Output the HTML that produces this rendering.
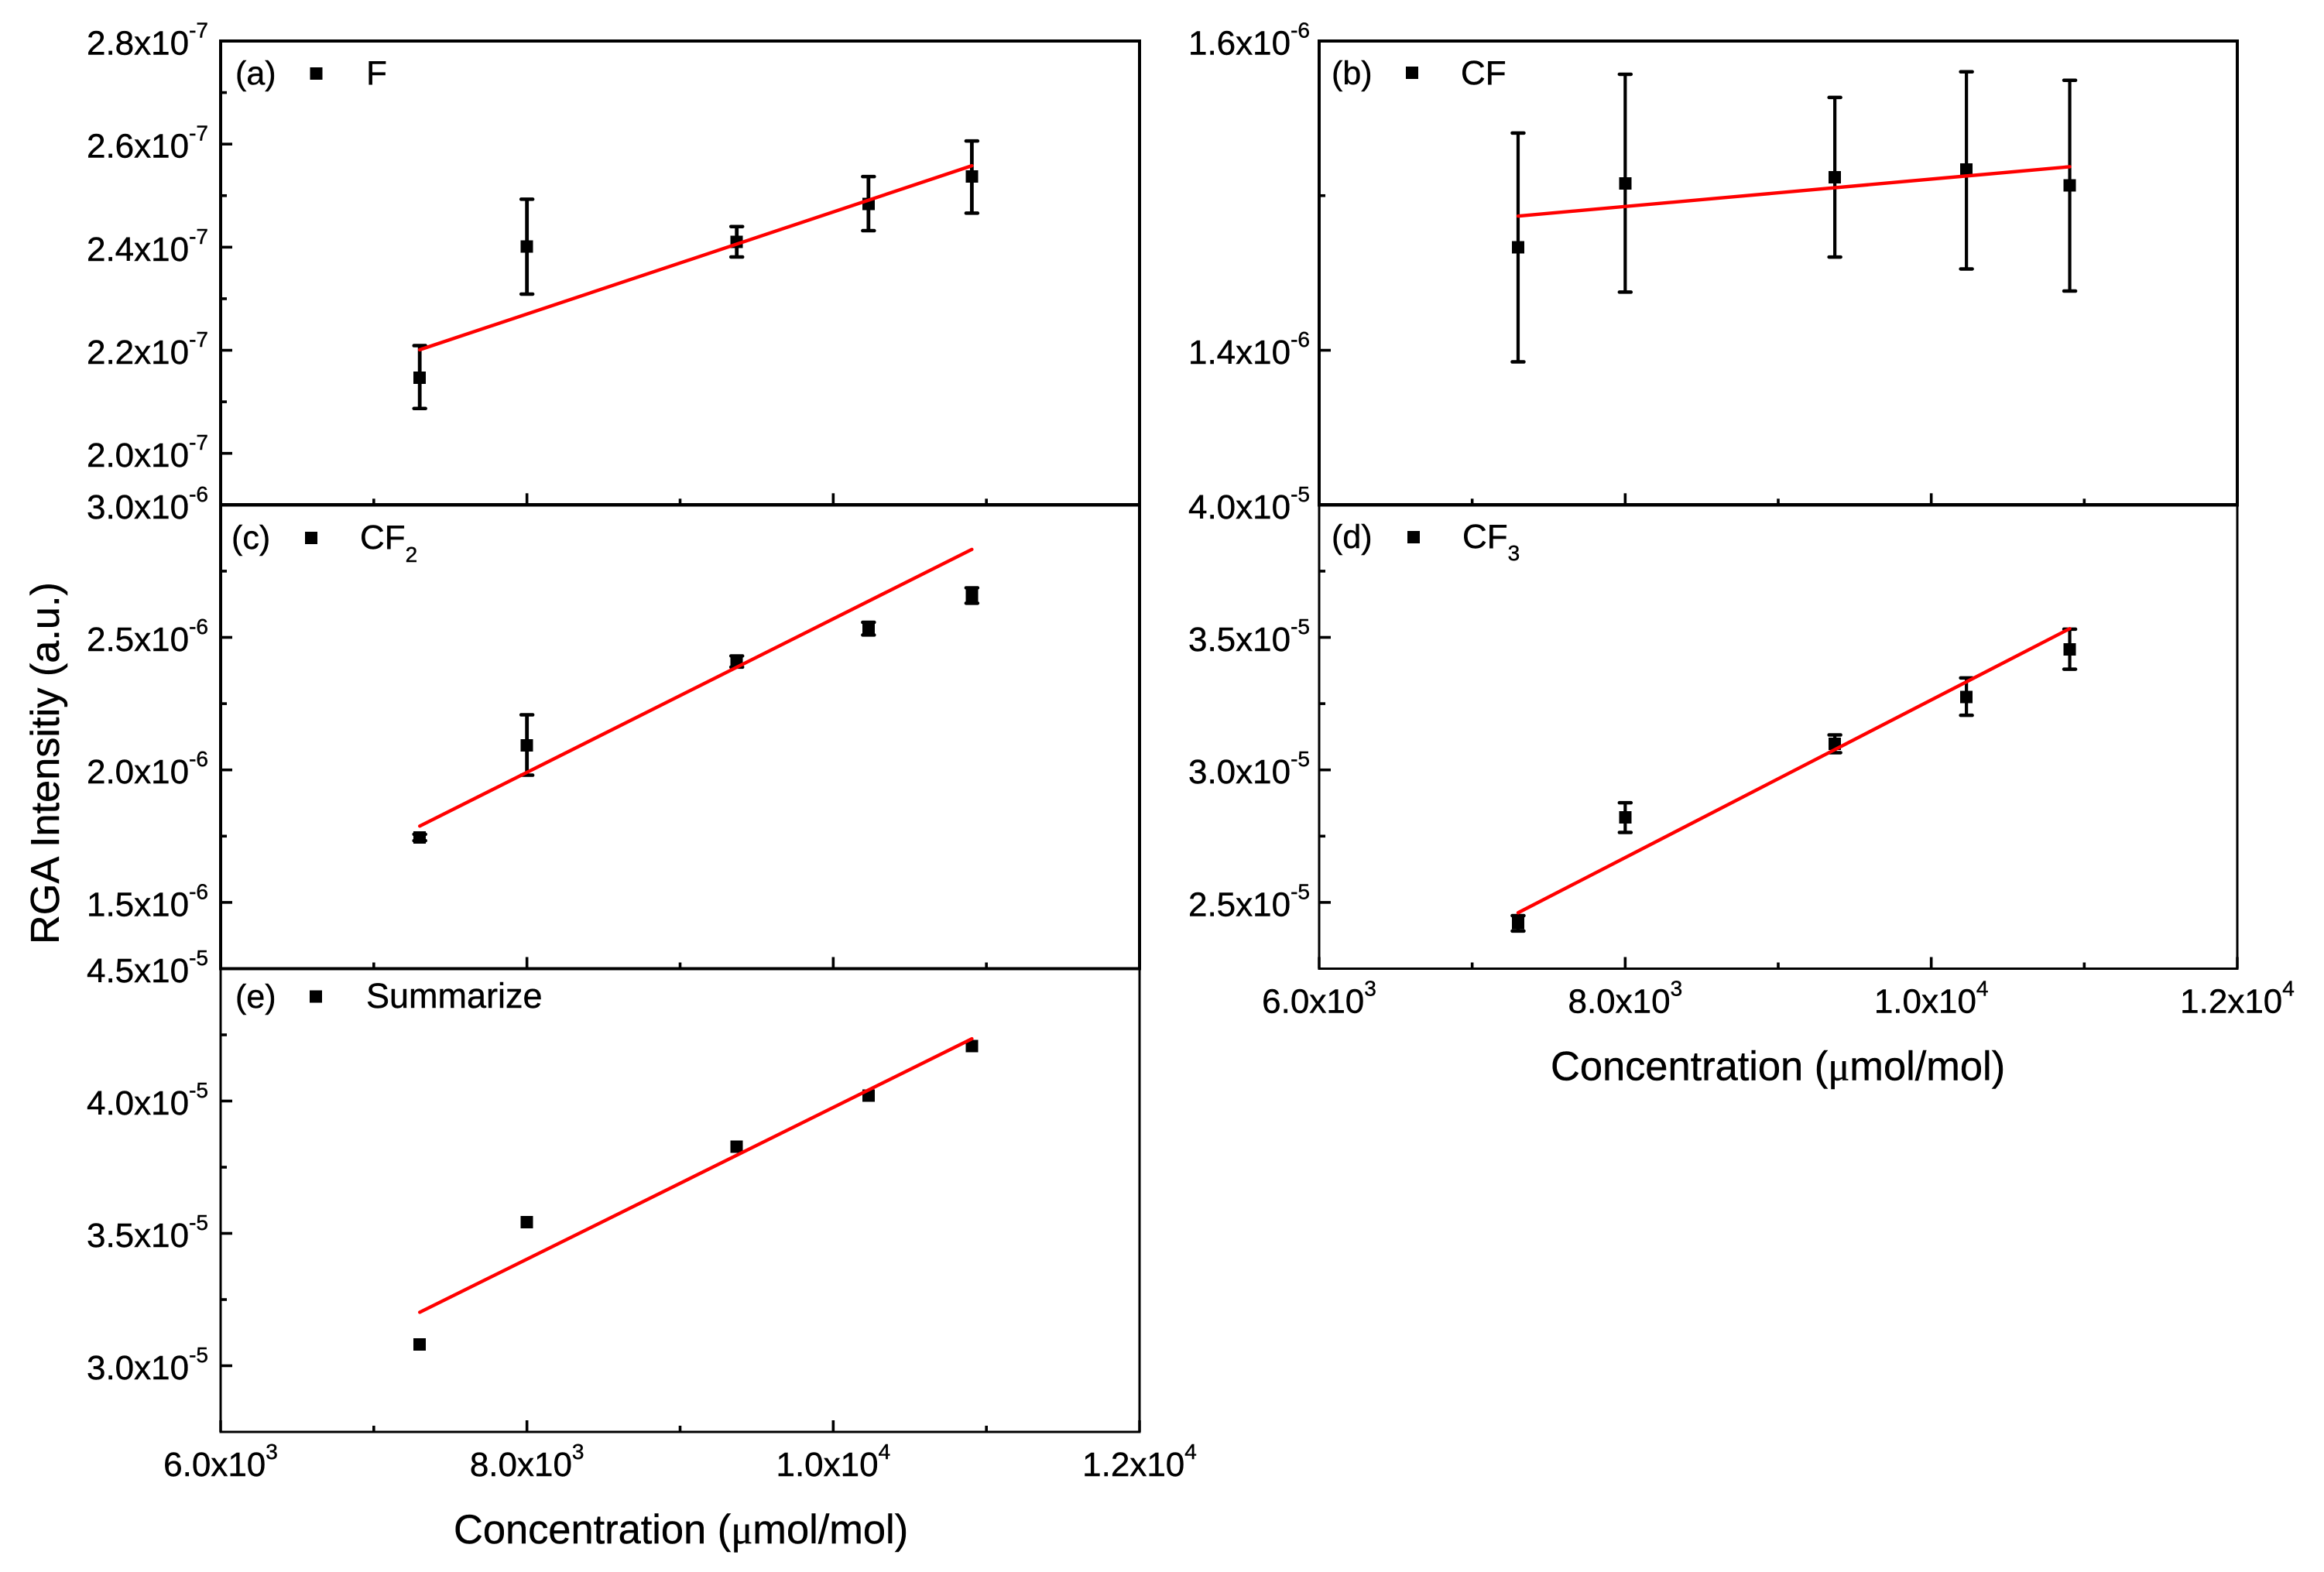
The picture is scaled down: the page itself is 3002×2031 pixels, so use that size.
<!DOCTYPE html>
<html lang="en">
<head>
<meta charset="utf-8">
<title>RGA Intensity vs Concentration</title>
<style>
html,body{margin:0;padding:0;background:#fff;width:3002px;height:2031px;overflow:hidden}
svg{display:block;font-family:"Liberation Sans",Arial,sans-serif;fill:#000}
svg text{stroke:#000;stroke-width:0.45px}
svg rect{shape-rendering:crispEdges}
</style>
</head>
<body>
<svg id="chart" xmlns="http://www.w3.org/2000/svg" width="3002" height="2031" viewBox="0 0 3002 2031">
  <rect x="0" y="0" width="3002" height="2031" fill="#fff"/>
  <g id="panels"></g>

  <text transform="translate(76,1220) rotate(-90)" font-size="52.3">RGA Intensitiy (a.u.)</text>
  <text x="586" y="1994" font-size="52.4">Concentration (<tspan font-family="'Liberation Serif',serif">μ</tspan>mol/mol)</text>
  <text x="2003" y="1395.5" font-size="52.4">Concentration (<tspan font-family="'Liberation Serif',serif">μ</tspan>mol/mol)</text>

  <g>
    <text x="304" y="109" font-size="43">(a)</text>
    <rect x="400.5" y="87" width="16" height="16"/>
    <text x="473" y="109" font-size="44">F</text>
  </g>
  <g>
    <text x="1720" y="109" font-size="43">(b)</text>
    <rect x="1816" y="86" width="16" height="16"/>
    <text x="1887" y="109" font-size="44">CF</text>
  </g>
  <g>
    <text x="299" y="709" font-size="43">(c)</text>
    <rect x="394" y="687" width="16" height="16"/>
    <text x="465" y="709" font-size="44">CF<tspan font-size="28" dy="17">2</tspan></text>
  </g>
  <g>
    <text x="1720" y="708" font-size="43">(d)</text>
    <rect x="1818" y="686" width="16" height="16"/>
    <text x="1889" y="708" font-size="44">CF<tspan font-size="28" dy="16">3</tspan></text>
  </g>
  <g>
    <text x="304" y="1302" font-size="43">(e)</text>
    <rect x="400" y="1279.5" width="16" height="16"/>
    <text x="473" y="1302" font-size="45">Summarize</text>
  </g>
</svg>

<script>
// Shared x data (umol/mol)
const concentrations = [7300, 8000, 9370, 10230, 10905];
const xFitRange = [7300, 10905];
const xMajorTicks = [6000, 8000, 10000, 12000];
const xMinorTicks = [7000, 9000, 11000];
const xTickMantissas = ['6.0', '8.0', '1.0', '1.2'];
const xTickExponents = ['3', '3', '4', '4'];

// Panel (a) F, values in 1e-7
const fValues = [2.147, 2.401, 2.410, 2.484, 2.537];
const fUpper = [2.209, 2.493, 2.440, 2.537, 2.606];
const fLower = [2.087, 2.309, 2.381, 2.432, 2.466];
const fFit = [2.201, 2.558];
const fDomain = [1.9, 2.8];
const fMajor = [2.0, 2.2, 2.4, 2.6, 2.8];
const fMinor = [2.1, 2.3, 2.5, 2.7];

// Panel (b) CF, values in 1e-6
const cfValues = [1.4667, 1.508, 1.5118, 1.5168, 1.5066];
const cfUpper = [1.5405, 1.5785, 1.5635, 1.5801, 1.5746];
const cfLower = [1.3925, 1.4376, 1.4603, 1.4526, 1.4383];
const cfFit = [1.4868, 1.5187];
const cfDomain = [1.3, 1.6];
const cfMajor = [1.4, 1.6];
const cfMinor = [1.5];

// Panel (c) CF2, values in 1e-6
const cf2Values = [1.745, 2.093, 2.409, 2.533, 2.658];
const cf2Upper = [1.757, 2.208, 2.430, 2.557, 2.687];
const cf2Lower = [1.733, 1.980, 2.388, 2.509, 2.629];
const cf2Fit = [1.788, 2.832];
const cf2Domain = [1.25, 3.0];
const cf2Major = [1.5, 2.0, 2.5, 3.0];
const cf2Minor = [1.75, 2.25, 2.75];

// Panel (d) CF3, values in 1e-5
const cf3Values = [2.422, 2.821, 3.099, 3.275, 3.455];
const cf3Upper = [2.450, 2.876, 3.132, 3.347, 3.531];
const cf3Lower = [2.392, 2.764, 3.065, 3.206, 3.380];
const cf3Fit = [2.461, 3.533];
const cf3Domain = [2.25, 4.0];
const cf3Major = [2.5, 3.0, 3.5, 4.0];
const cf3Minor = [2.75, 3.25, 3.75];

// Panel (e) Summarize, values in 1e-5
const sumValues = [3.081, 3.543, 3.828, 4.021, 4.208];
const sumFit = [3.202, 4.235];
const sumDomain = [2.75, 4.5];
const sumMajor = [3.0, 3.5, 4.0, 4.5];
const sumMinor = [3.25, 3.75, 4.25];

const SVGNS = 'http://www.w3.org/2000/svg';
const root = document.getElementById('panels');

function make(tag, parent, props) {
  const el = document.createElementNS(SVGNS, tag);
  for (const k in props) el.setAttribute(k, props[k]);
  parent.appendChild(el);
  return el;
}

function drawPanel(p) {
  const x = v => p.left + (v - 6000) / 6000 * (p.right - p.left);
  const y = v => p.bottom - (v - p.domain[0]) / (p.domain[1] - p.domain[0]) * (p.bottom - p.top);

  const g = make('g', root, {});
  
  

  const frame = make('rect', g, {x: p.left, y: p.top, width: p.right - p.left, height: p.bottom - p.top, fill: 'none', stroke: '#000', 'stroke-width': p.frameWidth});
  
  

  xMajorTicks.forEach((v, i) => {
    const t = make('line', g, {x1: x(v), x2: x(v), y1: p.bottom, y2: p.bottom - 15, stroke: '#000', 'stroke-width': 3.6});
    
    
    if (p.xLabels) {
      const lab = make('text', g, {x: x(v), y: p.bottom + 57, 'font-size': 44, 'text-anchor': 'middle'});
      
      
      lab.appendChild(document.createTextNode(xTickMantissas[i] + 'x10'));
      const sup = make('tspan', lab, {'font-size': 28, dy: -22});
      sup.textContent = xTickExponents[i];
    }
  });
  xMinorTicks.forEach(v => {
    const t = make('line', g, {x1: x(v), x2: x(v), y1: p.bottom, y2: p.bottom - 8, stroke: '#000', 'stroke-width': 3.6});
    
    
  });

  p.major.forEach(v => {
    const t = make('line', g, {x1: p.left, x2: p.left + 15, y1: y(v), y2: y(v), stroke: '#000', 'stroke-width': 3.6});
    
    
    const lab = make('text', g, {x: p.left - p.labelGap, y: y(v) + 17.5, 'font-size': 44, 'text-anchor': 'end'});
    
    
    lab.appendChild(document.createTextNode(v.toFixed(1) + 'x10'));
    const sup = make('tspan', lab, {'font-size': 28, dy: -22});
    sup.textContent = p.exponent;
  });
  p.minor.forEach(v => {
    const t = make('line', g, {x1: p.left, x2: p.left + 8, y1: y(v), y2: y(v), stroke: '#000', 'stroke-width': 3.6});
    
    
  });

  if (p.upper) {
    concentrations.forEach((c, i) => {
      const stem = make('line', g, {x1: x(c), x2: x(c), y1: y(p.upper[i]), y2: y(p.lower[i]), stroke: '#000', 'stroke-width': p.stemWidth});
      
      
      [p.upper[i], p.lower[i]].forEach(e => {
        const cap = make('line', g, {x1: x(c) - 7.5, x2: x(c) + 7.5, y1: y(e), y2: y(e), stroke: '#000', 'stroke-width': 4.5, 'stroke-linecap': 'round'});
        
        
      });
    });
  }

  concentrations.forEach((c, i) => {
    const m = make('rect', g, {x: x(c) - 8, y: y(p.values[i]) - 8, width: 16, height: 16, fill: '#000'});
    
    
  });

  const fit = make('line', g, {x1: x(xFitRange[0]), y1: y(p.fit[0]), x2: x(xFitRange[1]), y2: y(p.fit[1]), stroke: '#ff0000', 'stroke-width': 4.4, 'stroke-linecap': 'round'});
  
  
}

drawPanel({key: 'a', left: 285, right: 1472, top: 53, bottom: 652.3, frameWidth: 4.2, labelGap: 16, stemWidth: 4.8, exponent: '-7', domain: fDomain, major: fMajor, minor: fMinor, values: fValues, upper: fUpper, lower: fLower, fit: fFit});
drawPanel({key: 'b', left: 1704, right: 2890, top: 53, bottom: 652.3, frameWidth: 4.2, labelGap: 12, stemWidth: 4.2, exponent: '-6', domain: cfDomain, major: cfMajor, minor: cfMinor, values: cfValues, upper: cfUpper, lower: cfLower, fit: cfFit});
drawPanel({key: 'c', left: 285, right: 1472, top: 652.3, bottom: 1251.5, frameWidth: 3.6, labelGap: 16, stemWidth: 4.8, exponent: '-6', domain: cf2Domain, major: cf2Major, minor: cf2Minor, values: cf2Values, upper: cf2Upper, lower: cf2Lower, fit: cf2Fit});
drawPanel({key: 'd', left: 1704, right: 2890, top: 652.3, bottom: 1251.5, frameWidth: 3.2, labelGap: 12, stemWidth: 4.2, exponent: '-5', domain: cf3Domain, major: cf3Major, minor: cf3Minor, values: cf3Values, upper: cf3Upper, lower: cf3Lower, fit: cf3Fit, xLabels: true});
drawPanel({key: 'e', left: 285, right: 1472, top: 1251.5, bottom: 1850, frameWidth: 3.2, labelGap: 16, stemWidth: 4.2, exponent: '-5', domain: sumDomain, major: sumMajor, minor: sumMinor, values: sumValues, fit: sumFit, xLabels: true});
</script>
</body>
</html>
